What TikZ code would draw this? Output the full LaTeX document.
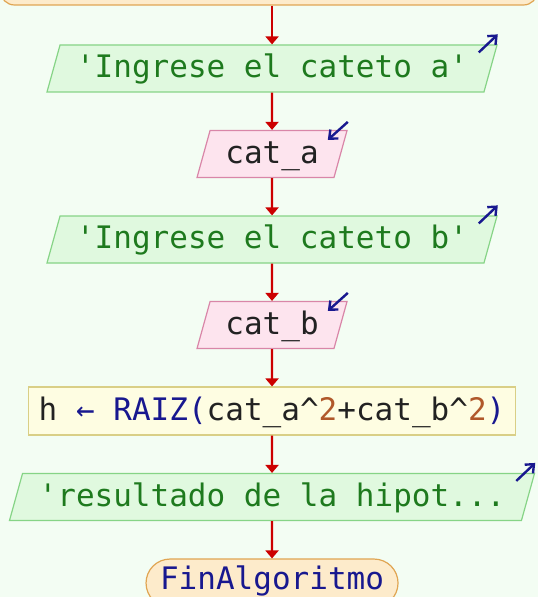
\documentclass[tikz,border=0pt]{standalone}
\usepackage{fontspec}
\newfontfamily\flowfont{DejaVu Sans Mono}
\usetikzlibrary{arrows.meta, positioning, shapes.geometric}

% colores del diagrama
\definecolor{fondo}{HTML}{F3FDF3}
\definecolor{rojo}{HTML}{CC0000}
\definecolor{azul}{HTML}{18188F}
\definecolor{salfill}{HTML}{E0F9DF}
\definecolor{saldraw}{HTML}{86D486}
\definecolor{saltext}{HTML}{1E7A1E}
\definecolor{leerfill}{HTML}{FDE4EE}
\definecolor{leerdraw}{HTML}{D986A8}
\definecolor{texto}{HTML}{222222}
\definecolor{procfill}{HTML}{FEFDE2}
\definecolor{procdraw}{HTML}{D9CF86}
\definecolor{numero}{HTML}{B0582A}
\definecolor{finfill}{HTML}{FDEBCB}
\definecolor{findraw}{HTML}{E0A552}

\begin{document}
\begin{tikzpicture}[
    x=1pt, y=1pt,
    node distance=37.3pt,
    every node/.style={font=\flowfont\fontsize{31}{36}\selectfont, inner sep=0pt, text height=26pt, text depth=8pt, line width=1.2pt},
    flujo/.style={draw=rojo, line width=2.2pt, -{Triangle[width=13pt,length=8pt]}},
    ioflecha/.style={draw=azul, line width=2.4pt, -{Straight Barb[width=12pt,length=7pt]}},
    io/.style={trapezium, trapezium left angle=69, trapezium right angle=111, trapezium stretches body, minimum height=47pt},
    escribir/.style={io, fill=salfill, draw=saldraw, text=saltext, minimum width=#1},
    leer/.style={io, fill=leerfill, draw=leerdraw, text=texto, minimum width=#1},
    proceso/.style={rectangle, fill=procfill, draw=procdraw, text=texto, minimum width=#1, minimum height=48pt},
    terminal/.style={rectangle, rounded corners=#1, fill=finfill, draw=findraw, text=azul}
]
\useasboundingbox (0,0) rectangle (538,597);
\clip (0,0) rectangle (538,597);
\fill[fondo] (0,0) rectangle (538,597);

\node[terminal=14pt, minimum width=537pt, minimum height=50pt] (inicio) at (269,617) {};
\node[escribir=450pt] (in1) at (272,528.5) {\textquotesingle Ingrese el cateto a\textquotesingle};
\node[leer=150pt, below=of in1] (cata) {cat\_a};
\node[escribir=450pt, below=of cata] (in2) {\textquotesingle Ingrese el cateto b\textquotesingle};
\node[leer=150pt, below=of in2] (catb) {cat\_b};
\node[proceso=487.5pt, below=of catb] (calc) {h {\color{azul}← RAIZ(}cat\_a\textasciicircum{\color{numero}2}+cat\_b\textasciicircum{\color{numero}2}{\color{azul})}};
\node[escribir=525pt, below=of calc] (out) {\textquotesingle resultado de la hipot...};
\node[terminal=24pt, minimum width=252pt, minimum height=48pt, text depth=14pt, below=of out] (fin) {FinAlgoritmo};

% flujo principal
\draw[flujo] (inicio.south -| in1.north) -- (in1.north);
\draw[flujo] (in1) -- (cata);
\draw[flujo] (cata) -- (in2);
\draw[flujo] (in2) -- (catb);
\draw[flujo] (catb) -- (calc);
\draw[flujo] (calc) -- (out);
\draw[flujo] (out) -- (fin);

% marcas de entrada/salida
\foreach \n in {in1, in2, out}
    \draw[ioflecha] ([shift={(-19pt,-8pt)}]\n.top right corner) -- ([shift={(0pt,10pt)}]\n.top right corner);
\foreach \n in {cata, catb}
    \draw[ioflecha] ([shift={(0pt,8pt)}]\n.top right corner) -- ([shift={(-20pt,-10pt)}]\n.top right corner);
\end{tikzpicture}
\end{document}
